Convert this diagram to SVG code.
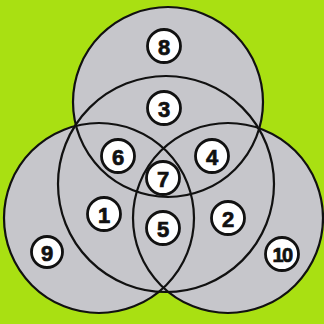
<svg xmlns="http://www.w3.org/2000/svg" width="324" height="324" viewBox="0 0 324 324">
<style>
.fill{fill:#c6c6cb;stroke:none}
.ring{fill:none;stroke:#111;stroke-width:2.2}
.lbl circle{fill:#fff;stroke:#111;stroke-width:2.8}
.lbl text{font-family:"Liberation Sans",Arial,sans-serif;font-weight:bold;font-size:22px;fill:#111;stroke:#111;stroke-width:0.7;text-anchor:middle;dominant-baseline:central}
</style>
<rect width="324" height="324" fill="#a9e012"/>
<g id="sets-fill">
<circle class="fill" cx="168" cy="102" r="95"/>
<circle class="fill" cx="166" cy="184" r="108"/>
<circle class="fill" cx="99" cy="218" r="95"/>
<circle class="fill" cx="228" cy="218" r="95"/>
</g>
<g id="connectors">
<circle id="setA" class="ring" cx="168" cy="102" r="95"/>
<circle id="setB" class="ring" cx="166" cy="184" r="108"/>
<circle id="setC" class="ring" cx="99" cy="218" r="95"/>
<circle id="setD" class="ring" cx="228" cy="218" r="95"/>
</g>
<g id="n8" class="lbl"><circle cx="164" cy="46" r="16.5"/><text x="164" y="47">8</text></g>
<g id="n3" class="lbl"><circle cx="164" cy="108" r="16.5"/><text x="164" y="109">3</text></g>
<g id="n6" class="lbl"><circle cx="118" cy="156" r="16.5"/><text x="118" y="157">6</text></g>
<g id="n4" class="lbl"><circle cx="212" cy="156" r="16.5"/><text x="212" y="157">4</text></g>
<g id="n7" class="lbl"><circle cx="163" cy="178" r="16.5"/><text x="163" y="179">7</text></g>
<g id="n1" class="lbl"><circle cx="104" cy="214" r="16.5"/><text x="104" y="215">1</text></g>
<g id="n5" class="lbl"><circle cx="163" cy="228" r="16.5"/><text x="163" y="229">5</text></g>
<g id="n2" class="lbl"><circle cx="228" cy="218" r="16.5"/><text x="228" y="219">2</text></g>
<g id="n9" class="lbl"><circle cx="47" cy="252" r="15.5"/><text x="47" y="253">9</text></g>
<g id="n10" class="lbl"><circle cx="282" cy="254" r="16.5"/><text x="282" y="255" style="font-size:20px;letter-spacing:-1.5px">10</text></g>
</svg>
